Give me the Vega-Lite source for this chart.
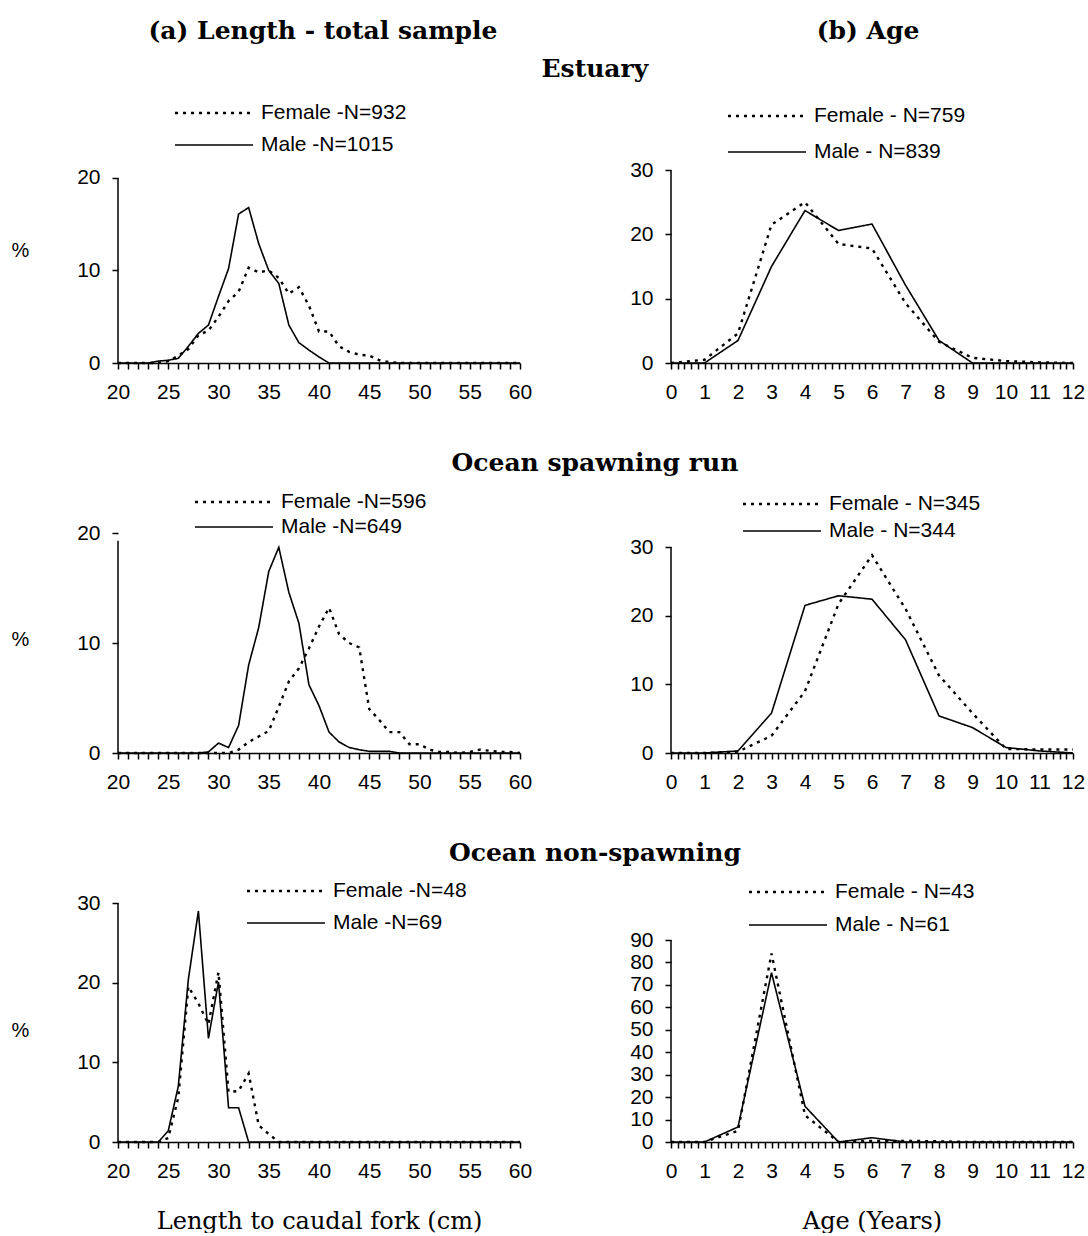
{
  "$schema": "https://vega.github.io/schema/vega-lite/v6.json",
  "padding": {"left": 11, "top": 19, "right": 0, "bottom": 0},
  "config": {
    "view": {"stroke": null},
    "axis": {"domainColor": "#000", "domainWidth": 1.5, "tickColor": "#000", "tickWidth": 1.5, "labelColor": "#000", "labelFont": "Liberation Sans", "labelFontSize": 21, "grid": false, "labelFlush": false, "labelOverlap": false, "titleColor": "#000", "tickSize": 6, "labelPadding": 12},
    "axisY": {"domain": false},
    "legend": {"orient": "none", "title": null, "symbolType": "M-4,0H4", "symbolSize": 380, "symbolStrokeWidth": 2.2, "symbolStrokeColor": "#000", "symbolOffset": 28, "labelOffset": 36, "labelFont": "Liberation Sans", "labelFontSize": 21, "labelColor": "#000", "padding": 0, "labelLimit": 400},
    "title": {"font": "DejaVu Serif", "fontWeight": "bold", "fontSize": 25, "color": "#000", "anchor": "middle"}
  },
  "datasets": {
    "p1": [
      {"x":20,"Female":0,"Male":0},{"x":21,"Female":0,"Male":0},{"x":22,"Female":0,"Male":0},{"x":23,"Female":0,"Male":0},{"x":24,"Female":0,"Male":0.2},
      {"x":25,"Female":0.2,"Male":0.3},{"x":26,"Female":0.8,"Male":0.5},{"x":27,"Female":1.5,"Male":1.8},{"x":28,"Female":3.0,"Male":3.2},{"x":29,"Female":3.5,"Male":4.1},
      {"x":30,"Female":5.0,"Male":7.2},{"x":31,"Female":6.7,"Male":10.2},{"x":32,"Female":7.7,"Male":16.1},{"x":33,"Female":10.3,"Male":16.8},{"x":34,"Female":9.8,"Male":12.9},
      {"x":35,"Female":10.0,"Male":10.0},{"x":36,"Female":9.2,"Male":8.6},{"x":37,"Female":7.5,"Male":4.1},{"x":38,"Female":8.2,"Male":2.2},{"x":39,"Female":6.2,"Male":1.4},
      {"x":40,"Female":3.4,"Male":0.65},{"x":41,"Female":3.4,"Male":0},{"x":42,"Female":1.8,"Male":0},{"x":43,"Female":1.2,"Male":0},{"x":44,"Female":0.9,"Male":0},
      {"x":45,"Female":0.8,"Male":0},{"x":46,"Female":0.3,"Male":0},{"x":47,"Female":0.1,"Male":0},{"x":48,"Female":0,"Male":0},{"x":49,"Female":0,"Male":0},
      {"x":50,"Female":0,"Male":0},{"x":51,"Female":0,"Male":0},{"x":52,"Female":0,"Male":0},{"x":53,"Female":0,"Male":0},{"x":54,"Female":0,"Male":0},
      {"x":55,"Female":0,"Male":0},{"x":56,"Female":0,"Male":0},{"x":57,"Female":0,"Male":0},{"x":58,"Female":0,"Male":0},{"x":59,"Female":0,"Male":0},{"x":60,"Female":0,"Male":0}
    ],
    "p2": [
      {"x":0,"Female":0,"Male":0},{"x":1,"Female":0.5,"Male":0},{"x":2,"Female":4.6,"Male":3.5},{"x":3,"Female":21.5,"Male":15},{"x":4,"Female":25.0,"Male":23.7},
      {"x":5,"Female":18.5,"Male":20.6},{"x":6,"Female":17.8,"Male":21.6},{"x":7,"Female":9.3,"Male":12.1},{"x":8,"Female":3.3,"Male":3.5},{"x":9,"Female":0.8,"Male":0},
      {"x":10,"Female":0.3,"Male":0},{"x":11,"Female":0.1,"Male":0},{"x":12,"Female":0,"Male":0}
    ],
    "p3": [
      {"x":20,"Female":0,"Male":0},{"x":21,"Female":0,"Male":0},{"x":22,"Female":0,"Male":0},{"x":23,"Female":0,"Male":0},{"x":24,"Female":0,"Male":0},
      {"x":25,"Female":0,"Male":0},{"x":26,"Female":0,"Male":0},{"x":27,"Female":0,"Male":0},{"x":28,"Female":0,"Male":0},{"x":29,"Female":0,"Male":0.1},
      {"x":30,"Female":0,"Male":0.9},{"x":31,"Female":0,"Male":0.5},{"x":32,"Female":0.3,"Male":2.5},{"x":33,"Female":1.0,"Male":8.0},{"x":34,"Female":1.5,"Male":11.4},
      {"x":35,"Female":2.0,"Male":16.5},{"x":36,"Female":4.2,"Male":18.7},{"x":37,"Female":6.5,"Male":14.6},{"x":38,"Female":7.7,"Male":11.8},{"x":39,"Female":9.5,"Male":6.2},
      {"x":40,"Female":11.5,"Male":4.3},{"x":41,"Female":13.2,"Male":1.9},{"x":42,"Female":10.8,"Male":1.0},{"x":43,"Female":10.0,"Male":0.5},{"x":44,"Female":9.6,"Male":0.3},
      {"x":45,"Female":4.0,"Male":0.15},{"x":46,"Female":3.0,"Male":0.15},{"x":47,"Female":1.9,"Male":0.15},{"x":48,"Female":1.9,"Male":0},{"x":49,"Female":0.8,"Male":0},
      {"x":50,"Female":0.8,"Male":0},{"x":51,"Female":0.3,"Male":0},{"x":52,"Female":0.1,"Male":0},{"x":53,"Female":0.1,"Male":0},{"x":54,"Female":0,"Male":0},
      {"x":55,"Female":0.1,"Male":0},{"x":56,"Female":0.3,"Male":0},{"x":57,"Female":0.2,"Male":0},{"x":58,"Female":0.1,"Male":0},{"x":59,"Female":0.1,"Male":0},{"x":60,"Female":0,"Male":0}
    ],
    "p4": [
      {"x":0,"Female":0,"Male":0},{"x":1,"Female":0,"Male":0},{"x":2,"Female":0.2,"Male":0.3},{"x":3,"Female":2.5,"Male":5.8},{"x":4,"Female":9.0,"Male":21.5},
      {"x":5,"Female":21.7,"Male":22.9},{"x":6,"Female":28.8,"Male":22.4},{"x":7,"Female":21.0,"Male":16.5},{"x":8,"Female":11.3,"Male":5.4},{"x":9,"Female":5.8,"Male":3.7},
      {"x":10,"Female":0.6,"Male":0.8},{"x":11,"Female":0.5,"Male":0.3},{"x":12,"Female":0.5,"Male":0}
    ],
    "p5": [
      {"x":20,"Female":0,"Male":0},{"x":21,"Female":0,"Male":0},{"x":22,"Female":0,"Male":0},{"x":23,"Female":0,"Male":0},{"x":24,"Female":0,"Male":0},
      {"x":25,"Female":0.5,"Male":1.4},{"x":26,"Female":5.6,"Male":7.0},{"x":27,"Female":19.5,"Male":20.4},{"x":28,"Female":17.4,"Male":29.0},{"x":29,"Female":14.8,"Male":13.0},
      {"x":30,"Female":21.3,"Male":20.1},{"x":31,"Female":6.3,"Male":4.3},{"x":32,"Female":6.4,"Male":4.3},{"x":33,"Female":8.6,"Male":0},{"x":34,"Female":2.1,"Male":0},
      {"x":35,"Female":1.0,"Male":0},{"x":36,"Female":0,"Male":0},{"x":37,"Female":0,"Male":0},{"x":38,"Female":0,"Male":0},{"x":39,"Female":0,"Male":0},
      {"x":40,"Female":0,"Male":0},{"x":41,"Female":0,"Male":0},{"x":42,"Female":0,"Male":0},{"x":43,"Female":0,"Male":0},{"x":44,"Female":0,"Male":0},
      {"x":45,"Female":0,"Male":0},{"x":46,"Female":0,"Male":0},{"x":47,"Female":0,"Male":0},{"x":48,"Female":0,"Male":0},{"x":49,"Female":0,"Male":0},
      {"x":50,"Female":0,"Male":0},{"x":51,"Female":0,"Male":0},{"x":52,"Female":0,"Male":0},{"x":53,"Female":0,"Male":0},{"x":54,"Female":0,"Male":0},
      {"x":55,"Female":0,"Male":0},{"x":56,"Female":0,"Male":0},{"x":57,"Female":0,"Male":0},{"x":58,"Female":0,"Male":0},{"x":59,"Female":0,"Male":0},{"x":60,"Female":0,"Male":0}
    ],
    "p6": [
      {"x":0,"Female":0,"Male":0},{"x":1,"Female":0,"Male":0},{"x":2,"Female":5,"Male":6.7},{"x":3,"Female":84,"Male":75.4},{"x":4,"Female":11.9,"Male":15.9},
      {"x":5,"Female":0,"Male":0},{"x":6,"Female":0.5,"Male":1.9},{"x":7,"Female":0.5,"Male":0},{"x":8,"Female":0.3,"Male":0},{"x":9,"Female":0,"Male":0},
      {"x":10,"Female":0,"Male":0},{"x":11,"Female":0,"Male":0},{"x":12,"Female":0,"Male":0}
    ]
  },
  "resolve": {"scale": {"strokeDash": "independent", "strokeWidth": "independent"}, "legend": {"strokeDash": "independent"}},
  "spacing": 49,
  "vconcat": [
    {
      "spacing": 6,
      "resolve": {"scale": {"strokeDash": "independent", "strokeWidth": "independent"}, "legend": {"strokeDash": "independent"}},
      "vconcat": [
        {
          "spacing": 140,
          "hconcat": [
            {"width": 410, "height": 1, "data": {"values": []}, "mark": "point", "title": {"text": "(a) Length - total sample", "offset": 6}},
            {"width": 400, "height": 1, "data": {"values": []}, "mark": "point", "title": {"text": "(b) Age", "offset": 6}}
          ]
        },
        {
          "title": {"text": "Estuary", "dx": 47, "offset": 20},
          "spacing": 97,
          "resolve": {"scale": {"strokeDash": "independent", "strokeWidth": "independent"}, "legend": {"strokeDash": "independent"}},
          "hconcat": [
            {
              "width": 402, "height": 193,
              "resolve": {"axis": {"x": "independent", "y": "independent"}},
              "layer": [
                {
                  "data": {"name": "p1"},
                  "transform": [{"fold": ["Female", "Male"], "as": ["sex", "pct"]}],
                  "mark": {"type": "line", "color": "#000"},
                  "encoding": {
                    "x": {"field": "x", "type": "quantitative", "scale": {"domain": [20, 60], "nice": false, "zero": false},
                      "axis": {"title": null, "values": [20,21,22,23,24,25,26,27,28,29,30,31,32,33,34,35,36,37,38,39,40,41,42,43,44,45,46,47,48,49,50,51,52,53,54,55,56,57,58,59,60],
                        "labelExpr": "datum.value % 5 === 0 ? datum.label : ''",
                        "encode": {"ticks": {"y": {"value": {"expr": "datum.value % 5 === 0 ? -6 : 0"}}, "y2": {"value": {"expr": "datum.value % 5 === 0 ? 6 : 5"}}}}}},
                    "y": {"field": "pct", "type": "quantitative", "scale": {"domain": [0, 20.86], "nice": false},
                      "axis": {"values": [0, 10, 20], "title": "%", "titleAngle": 0, "titleX": -98, "titleY": 80, "titleAlign": "center", "titleBaseline": "middle", "titleFont": "Liberation Sans", "titleFontSize": 20, "titleFontWeight": "normal",
                        "encode": {"ticks": {"x": {"value": 5}}}}},
                    "strokeDash": {"field": "sex", "type": "nominal", "scale": {"domain": ["Female", "Male"], "range": [[3, 5], [1, 0]]},
                      "legend": {"legendX": 57, "legendY": -68, "rowPadding": 11, "labelExpr": "datum.label == 'Female' ? 'Female -N=932' : 'Male -N=1015'"}},
                    "strokeWidth": {"field": "sex", "type": "nominal", "scale": {"domain": ["Female", "Male"], "range": [2.4, 1.6]}, "legend": null}
                  }
                },
                {
                  "data": {"values": [{"axisline": "y"}]},
                  "mark": {"type": "rule", "color": "#000", "strokeWidth": 1.5},
                  "encoding": {"x": {"datum": 20, "type": "quantitative", "axis": null}, "y": {"datum": 0, "type": "quantitative", "axis": null}, "y2": {"datum": 20}}
                }
              ]
            },
            {
              "width": 402, "height": 193,
              "resolve": {"axis": {"x": "independent", "y": "independent"}},
              "layer": [
                {
                  "data": {"name": "p2"},
                  "transform": [{"fold": ["Female", "Male"], "as": ["sex", "pct"]}],
                  "mark": {"type": "line", "color": "#000"},
                  "encoding": {
                    "x": {"field": "x", "type": "quantitative", "scale": {"domain": [0, 12], "nice": false, "zero": false},
                      "axis": {"title": null, "values": [0,0.2,0.4,0.6,0.8,1,1.2,1.4,1.6,1.8,2,2.2,2.4,2.6,2.8,3,3.2,3.4,3.6,3.8,4,4.2,4.4,4.6,4.8,5,5.2,5.4,5.6,5.8,6,6.2,6.4,6.6,6.8,7,7.2,7.4,7.6,7.8,8,8.2,8.4,8.6,8.8,9,9.2,9.4,9.6,9.8,10,10.2,10.4,10.6,10.8,11,11.2,11.4,11.6,11.8,12],
                        "labelExpr": "datum.value % 1 === 0 ? toString(datum.value) : ''", "labelOverlap": false,
                        "encode": {"ticks": {"y": {"value": {"expr": "datum.value % 1 === 0 ? -6 : 0"}}, "y2": {"value": {"expr": "datum.value % 1 === 0 ? 6 : 5"}}}}}},
                    "y": {"field": "pct", "type": "quantitative", "scale": {"domain": [0, 30], "nice": false},
                      "axis": {"values": [0, 10, 20, 30], "title": null, "encode": {"ticks": {"x": {"value": 5}}}}},
                    "strokeDash": {"field": "sex", "type": "nominal", "scale": {"domain": ["Female", "Male"], "range": [[3, 5], [1, 0]]},
                      "legend": {"legendX": 57, "legendY": -65, "rowPadding": 15, "labelExpr": "datum.label == 'Female' ? 'Female - N=759' : 'Male - N=839'"}},
                    "strokeWidth": {"field": "sex", "type": "nominal", "scale": {"domain": ["Female", "Male"], "range": [2.4, 1.6]}, "legend": null}
                  }
                },
                {
                  "data": {"values": [{"axisline": "y"}]},
                  "mark": {"type": "rule", "color": "#000", "strokeWidth": 1.5},
                  "encoding": {"x": {"datum": 0, "type": "quantitative", "axis": null}, "y": {"datum": 0, "type": "quantitative", "axis": null}, "y2": {"datum": 30}}
                }
              ]
            }
          ]
        }
      ]
    },
    {
      "title": {"text": "Ocean spawning run", "dx": 47, "offset": 15},
      "spacing": 97,
      "resolve": {"scale": {"strokeDash": "independent", "strokeWidth": "independent"}, "legend": {"strokeDash": "independent"}},
      "hconcat": [
        {
          "width": 402, "height": 220,
          "resolve": {"axis": {"x": "independent", "y": "independent"}},
          "layer": [
            {
              "data": {"name": "p3"},
              "transform": [{"fold": ["Female", "Male"], "as": ["sex", "pct"]}],
              "mark": {"type": "line", "color": "#000"},
              "encoding": {
                "x": {"field": "x", "type": "quantitative", "scale": {"domain": [20, 60], "nice": false, "zero": false},
                  "axis": {"title": null, "values": [20,21,22,23,24,25,26,27,28,29,30,31,32,33,34,35,36,37,38,39,40,41,42,43,44,45,46,47,48,49,50,51,52,53,54,55,56,57,58,59,60],
                    "labelExpr": "datum.value % 5 === 0 ? datum.label : ''",
                    "encode": {"ticks": {"y": {"value": {"expr": "datum.value % 5 === 0 ? -6 : 0"}}, "y2": {"value": {"expr": "datum.value % 5 === 0 ? 6 : 5"}}}}}},
                "y": {"field": "pct", "type": "quantitative", "scale": {"domain": [0, 20], "nice": false},
                  "axis": {"values": [0, 10, 20], "title": "%", "titleAngle": 0, "titleX": -98, "titleY": 106, "titleAlign": "center", "titleBaseline": "middle", "titleFont": "Liberation Sans", "titleFontSize": 20, "titleFontWeight": "normal",
                    "encode": {"ticks": {"x": {"value": 5}}}}},
                "strokeDash": {"field": "sex", "type": "nominal", "scale": {"domain": ["Female", "Male"], "range": [[3, 5], [1, 0]]},
                  "legend": {"legendX": 77, "legendY": -42, "rowPadding": 4, "labelExpr": "datum.label == 'Female' ? 'Female -N=596' : 'Male -N=649'"}},
                "strokeWidth": {"field": "sex", "type": "nominal", "scale": {"domain": ["Female", "Male"], "range": [2.4, 1.6]}, "legend": null}
              }
            },
            {
              "data": {"values": [{"axisline": "y"}]},
              "mark": {"type": "rule", "color": "#000", "strokeWidth": 1.5},
              "encoding": {"x": {"datum": 20, "type": "quantitative", "axis": null}, "y": {"datum": 0, "type": "quantitative", "axis": null}, "y2": {"datum": 19.3}}
            }
          ]
        },
        {
          "width": 402, "height": 220,
          "resolve": {"axis": {"x": "independent", "y": "independent"}},
          "layer": [
            {
              "data": {"name": "p4"},
              "transform": [{"fold": ["Female", "Male"], "as": ["sex", "pct"]}],
              "mark": {"type": "line", "color": "#000"},
              "encoding": {
                "x": {"field": "x", "type": "quantitative", "scale": {"domain": [0, 12], "nice": false, "zero": false},
                  "axis": {"title": null, "values": [0,0.2,0.4,0.6,0.8,1,1.2,1.4,1.6,1.8,2,2.2,2.4,2.6,2.8,3,3.2,3.4,3.6,3.8,4,4.2,4.4,4.6,4.8,5,5.2,5.4,5.6,5.8,6,6.2,6.4,6.6,6.8,7,7.2,7.4,7.6,7.8,8,8.2,8.4,8.6,8.8,9,9.2,9.4,9.6,9.8,10,10.2,10.4,10.6,10.8,11,11.2,11.4,11.6,11.8,12],
                    "labelExpr": "datum.value % 1 === 0 ? toString(datum.value) : ''", "labelOverlap": false,
                    "encode": {"ticks": {"y": {"value": {"expr": "datum.value % 1 === 0 ? -6 : 0"}}, "y2": {"value": {"expr": "datum.value % 1 === 0 ? 6 : 5"}}}}}},
                "y": {"field": "pct", "type": "quantitative", "scale": {"domain": [0, 32.04], "nice": false},
                  "axis": {"values": [0, 10, 20, 30], "title": null, "encode": {"ticks": {"x": {"value": 5}}}}},
                "strokeDash": {"field": "sex", "type": "nominal", "scale": {"domain": ["Female", "Male"], "range": [[3, 5], [1, 0]]},
                  "legend": {"legendX": 72, "legendY": -40, "rowPadding": 6, "labelExpr": "datum.label == 'Female' ? 'Female - N=345' : 'Male - N=344'"}},
                "strokeWidth": {"field": "sex", "type": "nominal", "scale": {"domain": ["Female", "Male"], "range": [2.4, 1.6]}, "legend": null}
              }
            },
            {
              "data": {"values": [{"axisline": "y"}]},
              "mark": {"type": "rule", "color": "#000", "strokeWidth": 1.5},
              "encoding": {"x": {"datum": 0, "type": "quantitative", "axis": null}, "y": {"datum": 0, "type": "quantitative", "axis": null}, "y2": {"datum": 30}}
            }
          ]
        }
      ]
    },
    {
      "title": {"text": "Ocean non-spawning", "dx": 47, "offset": 14},
      "spacing": 97,
      "resolve": {"scale": {"strokeDash": "independent", "strokeWidth": "independent"}, "legend": {"strokeDash": "independent"}},
      "hconcat": [
        {
          "width": 402, "height": 239,
          "resolve": {"axis": {"x": "independent", "y": "independent"}},
          "layer": [
            {
              "data": {"name": "p5"},
              "transform": [{"fold": ["Female", "Male"], "as": ["sex", "pct"]}],
              "mark": {"type": "line", "color": "#000"},
              "encoding": {
                "x": {"field": "x", "type": "quantitative", "scale": {"domain": [20, 60], "nice": false, "zero": false},
                  "axis": {"title": "Length to caudal fork (cm)", "titleFont": "DejaVu Serif", "titleFontSize": 24, "titleFontWeight": "normal", "titlePadding": 28,
                    "values": [20,21,22,23,24,25,26,27,28,29,30,31,32,33,34,35,36,37,38,39,40,41,42,43,44,45,46,47,48,49,50,51,52,53,54,55,56,57,58,59,60],
                    "labelExpr": "datum.value % 5 === 0 ? datum.label : ''",
                    "encode": {"ticks": {"y": {"value": {"expr": "datum.value % 5 === 0 ? -6 : 0"}}, "y2": {"value": {"expr": "datum.value % 5 === 0 ? 6 : 5"}}}}}},
                "y": {"field": "pct", "type": "quantitative", "scale": {"domain": [0, 30], "nice": false},
                  "axis": {"values": [0, 10, 20, 30], "title": "%", "titleAngle": 0, "titleX": -98, "titleY": 127, "titleAlign": "center", "titleBaseline": "middle", "titleFont": "Liberation Sans", "titleFontSize": 20, "titleFontWeight": "normal",
                    "encode": {"ticks": {"x": {"value": 5}}}}},
                "strokeDash": {"field": "sex", "type": "nominal", "scale": {"domain": ["Female", "Male"], "range": [[3, 5], [1, 0]]},
                  "legend": {"legendX": 129, "legendY": -23, "rowPadding": 11, "labelExpr": "datum.label == 'Female' ? 'Female -N=48' : 'Male -N=69'"}},
                "strokeWidth": {"field": "sex", "type": "nominal", "scale": {"domain": ["Female", "Male"], "range": [2.4, 1.6]}, "legend": null}
              }
            },
            {
              "data": {"values": [{"axisline": "y"}]},
              "mark": {"type": "rule", "color": "#000", "strokeWidth": 1.5},
              "encoding": {"x": {"datum": 20, "type": "quantitative", "axis": null}, "y": {"datum": 0, "type": "quantitative", "axis": null}, "y2": {"datum": 30}}
            }
          ]
        },
        {
          "width": 402, "height": 239,
          "resolve": {"axis": {"x": "independent", "y": "independent"}},
          "layer": [
            {
              "data": {"name": "p6"},
              "transform": [{"fold": ["Female", "Male"], "as": ["sex", "pct"]}],
              "mark": {"type": "line", "color": "#000"},
              "encoding": {
                "x": {"field": "x", "type": "quantitative", "scale": {"domain": [0, 12], "nice": false, "zero": false},
                  "axis": {"title": "Age (Years)", "titleFont": "DejaVu Serif", "titleFontSize": 24, "titleFontWeight": "normal", "titlePadding": 28,
                    "values": [0,0.2,0.4,0.6,0.8,1,1.2,1.4,1.6,1.8,2,2.2,2.4,2.6,2.8,3,3.2,3.4,3.6,3.8,4,4.2,4.4,4.6,4.8,5,5.2,5.4,5.6,5.8,6,6.2,6.4,6.6,6.8,7,7.2,7.4,7.6,7.8,8,8.2,8.4,8.6,8.8,9,9.2,9.4,9.6,9.8,10,10.2,10.4,10.6,10.8,11,11.2,11.4,11.6,11.8,12],
                    "labelExpr": "datum.value % 1 === 0 ? toString(datum.value) : ''", "labelOverlap": false,
                    "encode": {"ticks": {"y": {"value": {"expr": "datum.value % 1 === 0 ? -6 : 0"}}, "y2": {"value": {"expr": "datum.value % 1 === 0 ? 6 : 5"}}}}}},
                "y": {"field": "pct", "type": "quantitative", "scale": {"domain": [0, 106.5], "nice": false},
                  "axis": {"values": [0, 10, 20, 30, 40, 50, 60, 70, 80, 90], "title": null, "encode": {"ticks": {"x": {"value": 5}}}}},
                "strokeDash": {"field": "sex", "type": "nominal", "scale": {"domain": ["Female", "Male"], "range": [[3, 5], [1, 0]]},
                  "legend": {"legendX": 78, "legendY": -22, "rowPadding": 12, "labelExpr": "datum.label == 'Female' ? 'Female - N=43' : 'Male - N=61'"}},
                "strokeWidth": {"field": "sex", "type": "nominal", "scale": {"domain": ["Female", "Male"], "range": [2.4, 1.6]}, "legend": null}
              }
            },
            {
              "data": {"values": [{"axisline": "y"}]},
              "mark": {"type": "rule", "color": "#000", "strokeWidth": 1.5},
              "encoding": {"x": {"datum": 0, "type": "quantitative", "axis": null}, "y": {"datum": 0, "type": "quantitative", "axis": null}, "y2": {"datum": 90}}
            }
          ]
        }
      ]
    }
  ]
}
